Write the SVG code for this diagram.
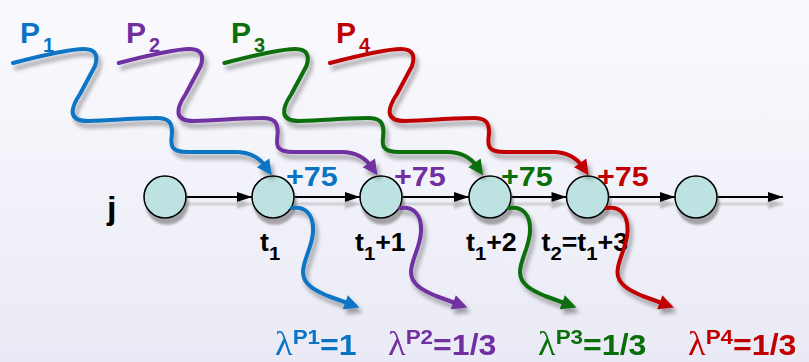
<svg xmlns="http://www.w3.org/2000/svg" width="809" height="362" viewBox="0 0 809 362">
<defs>
<style>
.bg{fill:url(#bg)}
.w{fill:none;stroke-width:4;stroke-linecap:round;stroke-linejoin:round}
.cb{stroke:#0a74c4}.cu{stroke:#7030a0}.cg{stroke:#0a6e0a}.cr{stroke:#c00000}
.fb{fill:#0a74c4}.fu{fill:#7030a0}.fg{fill:#0a6e0a}.fr{fill:#c00000}
.h{fill:none;stroke:#000;stroke-width:2}
.node circle{fill:#bde2e2;stroke:#000;stroke-width:1.5}
.s{font-family:"Liberation Sans",Arial,sans-serif;font-weight:bold}
.lam{font-family:"Liberation Serif","Times New Roman",serif;font-weight:normal}
</style>
<linearGradient id="bg" x1="0" y1="0" x2="0" y2="1">
<stop offset="0" stop-color="#fafafe"/><stop offset="1" stop-color="#eaeaf6"/>
</linearGradient>
<filter id="wsh" filterUnits="userSpaceOnUse" x="0" y="0" width="809" height="362"><feDropShadow dx="3" dy="5" stdDeviation="2.2" flood-color="#000" flood-opacity="0.35"/></filter>
<filter id="nsh" filterUnits="userSpaceOnUse" x="0" y="0" width="809" height="362"><feDropShadow dx="2" dy="6" stdDeviation="1" flood-color="#555" flood-opacity="0.5"/></filter>
<filter id="lsh" filterUnits="userSpaceOnUse" x="0" y="0" width="809" height="362"><feDropShadow dx="0" dy="7" stdDeviation="0.8" flood-color="#888" flood-opacity="0.5"/></filter>
<marker id="ak" markerUnits="userSpaceOnUse" markerWidth="16" markerHeight="12" refX="15" refY="5" orient="auto" overflow="visible"><path d="M0,0 L15,5 L0,10 z" fill="#000"/></marker>
<marker id="ab" markerUnits="userSpaceOnUse" markerWidth="16" markerHeight="16" refX="5" refY="7.5" orient="auto" overflow="visible"><path d="M0,0 L15,7.5 L0,15 z" class="fb"/></marker>
<marker id="au" markerUnits="userSpaceOnUse" markerWidth="16" markerHeight="16" refX="5" refY="7.5" orient="auto" overflow="visible"><path d="M0,0 L15,7.5 L0,15 z" class="fu"/></marker>
<marker id="ag" markerUnits="userSpaceOnUse" markerWidth="16" markerHeight="16" refX="5" refY="7.5" orient="auto" overflow="visible"><path d="M0,0 L15,7.5 L0,15 z" class="fg"/></marker>
<marker id="ar" markerUnits="userSpaceOnUse" markerWidth="16" markerHeight="16" refX="5" refY="7.5" orient="auto" overflow="visible"><path d="M0,0 L15,7.5 L0,15 z" class="fr"/></marker>
</defs>
<rect class="bg" x="0" y="0" width="809" height="362"/>

<g id="labels-p" class="s" font-size="30">
<text x="20" y="43" class="fb">P<tspan font-size="20" dx="3" dy="9">1</tspan></text>
<text x="126" y="43" class="fu">P<tspan font-size="20" dx="3" dy="9">2</tspan></text>
<text x="231" y="43" class="fg">P<tspan font-size="20" dx="3" dy="9">3</tspan></text>
<text x="336" y="43" class="fr">P<tspan font-size="20" dx="3" dy="9">4</tspan></text>
</g>

<text id="row-j" class="s" font-size="32" transform="matrix(1.07 0 0 1 107 219)">j</text>

<g id="connectors">
<g id="flow" filter="url(#lsh)">
<path class="h" d="M186,197 L252,197" marker-end="url(#ak)"/>
<path class="h" d="M294,197 L360,197" marker-end="url(#ak)"/>
<path class="h" d="M402,197 L469,197" marker-end="url(#ak)"/>
<path class="h" d="M511,197 L566.5,197" marker-end="url(#ak)"/>
<path class="h" d="M608.5,197 L675,197" marker-end="url(#ak)"/>
<path class="h" d="M717,197 L783,197" marker-end="url(#ak)"/>
</g>
</g>

<g id="n1" class="node"><circle cx="165" cy="197" r="21" filter="url(#nsh)"/></g>
<g id="n2" class="node"><circle cx="273" cy="197" r="21" filter="url(#nsh)"/>
<text class="s" font-size="25" transform="matrix(1.07 0 0 1 260 251)">t<tspan font-size="19" dy="9">1</tspan></text></g>
<g id="n3" class="node"><circle cx="381" cy="197" r="21" filter="url(#nsh)"/>
<text class="s" font-size="25" transform="matrix(1.07 0 0 1 355 251)">t<tspan font-size="19" dy="9">1</tspan><tspan dy="-9">+1</tspan></text></g>
<g id="n4" class="node"><circle cx="490" cy="197" r="21" filter="url(#nsh)"/>
<text class="s" font-size="25" transform="matrix(1.07 0 0 1 466 251)">t<tspan font-size="19" dy="9">1</tspan><tspan dy="-9">+2</tspan></text></g>
<g id="n5" class="node"><circle cx="587.5" cy="197" r="21" filter="url(#nsh)"/>
<text class="s" font-size="25" transform="matrix(1.07 0 0 1 541.5 251)">t<tspan font-size="19" dy="9">2</tspan><tspan dy="-9">=t</tspan><tspan font-size="19" dy="9">1</tspan><tspan dy="-9">+3</tspan></text></g>
<g id="n6" class="node"><circle cx="696" cy="197" r="21" filter="url(#nsh)"/></g>

<g id="gains" class="s" font-size="28.5">
<text class="fb" transform="matrix(1.07 0 0 1 286 186)">+75</text>
<text class="fu" transform="matrix(1.07 0 0 1 394 186)">+75</text>
<text class="fg" transform="matrix(1.07 0 0 1 501 186)">+75</text>
<text class="fr" transform="matrix(1.07 0 0 1 597 186)">+75</text>
</g>

<g id="paths" filter="url(#wsh)">
<path class="w cb" marker-end="url(#ab)" d="M13,63 C40,56 68,49 84,49 C97,49 98,57 95,66 L80,94 C70,109 68,121 88,121 C115,120 140,118 157,118 C168,118 172,122 172,132 C172,141 166,152 188,152 L236,152 C250,152 259,157 266,167"/>
<path class="w cu" marker-end="url(#au)" transform="translate(105.7 0)" d="M13,63 C40,56 68,49 84,49 C97,49 98,57 95,66 L80,94 C70,109 68,121 88,121 C115,120 140,118 157,118 C168,118 172,122 172,132 C172,141 166,152 188,152 L236,152 C250,152 259,157 266,167"/>
<path class="w cg" marker-end="url(#ag)" transform="translate(211.4 0)" d="M13,63 C40,56 68,49 84,49 C97,49 98,57 95,66 L80,94 C70,109 68,121 88,121 C115,120 140,118 157,118 C168,118 172,122 172,132 C172,141 166,152 188,152 L236,152 C250,152 259,157 266,167"/>
<path class="w cr" marker-end="url(#ar)" transform="translate(317 0)" d="M13,63 C40,56 68,49 84,49 C97,49 98,57 95,66 L80,94 C70,109 68,121 88,121 C115,120 140,118 157,118 C168,118 172,122 172,132 C172,141 166,152 188,152 L236,152 C250,152 259,157 266,167"/>
<path class="w cb" marker-end="url(#ab)" d="M292,208 C305,206 314,214 313,232 C312,248 303,260 303,272 C303,284 314,290 328,296 L350,304"/>
<path class="w cu" marker-end="url(#au)" transform="translate(108 0)" d="M292,208 C305,206 314,214 313,232 C312,248 303,260 303,272 C303,284 314,290 328,296 L350,304"/>
<path class="w cg" marker-end="url(#ag)" transform="translate(217 0)" d="M292,208 C305,206 314,214 313,232 C312,248 303,260 303,272 C303,284 314,290 328,296 L350,304"/>
<path class="w cr" marker-end="url(#ar)" transform="translate(314.5 0)" d="M292,208 C305,206 314,214 313,232 C312,248 303,260 303,272 C303,284 314,290 328,296 L350,304"/>
</g>

<g id="lambdas" class="s" font-size="30">
<text class="fb" transform="matrix(1.07 0 0 1 275 355)"><tspan class="lam" font-size="34">λ</tspan><tspan font-size="21" dy="-11">P1</tspan><tspan dy="11">=1</tspan></text>
<text class="fu" transform="matrix(1.07 0 0 1 388 355)"><tspan class="lam" font-size="34">λ</tspan><tspan font-size="21" dy="-11">P2</tspan><tspan dy="11">=1/3</tspan></text>
<text class="fg" transform="matrix(1.07 0 0 1 538 355)"><tspan class="lam" font-size="34">λ</tspan><tspan font-size="21" dy="-11">P3</tspan><tspan dy="11">=1/3</tspan></text>
<text class="fr" transform="matrix(1.07 0 0 1 688 355)"><tspan class="lam" font-size="34">λ</tspan><tspan font-size="21" dy="-11">P4</tspan><tspan dy="11">=1/3</tspan></text>
</g>
</svg>
